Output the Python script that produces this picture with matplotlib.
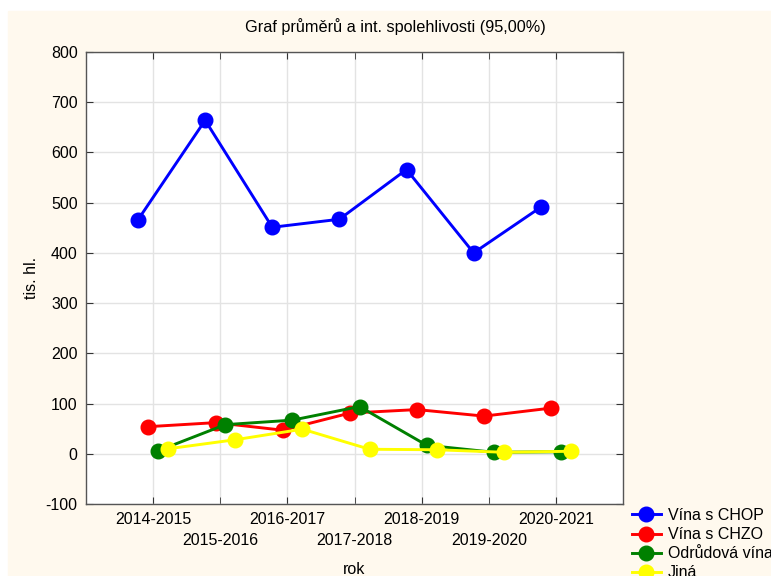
import matplotlib.pyplot as plt
import numpy as np
from matplotlib.patches import Rectangle

plt.rcParams["font.family"] = ["Liberation Sans", "DejaVu Sans"]
plt.rcParams["axes.unicode_minus"] = False

years = ["2014-2015", "2015-2016", "2016-2017", "2017-2018",
         "2018-2019", "2019-2020", "2020-2021"]
chop = [466, 664, 451, 467, 566, 400, 491]
chzo = [54, 62, 47, 81, 88, 75, 91]
odrudova = [6, 58, 67, 94, 17, 3, 4]
jina = [10, 28, 49, 9, 8, 3, 5]

series = [
    ("Vína s CHOP", chop, "#0000FF"),
    ("Vína s CHZO", chzo, "#FF0000"),
    ("Odrůdová vína", odrudova, "#008000"),
    ("Jiná", jina, "#FFFF00"),
]
offsets = [-0.225, -0.07, 0.075, 0.225]

fig = plt.figure(figsize=(7.71, 5.76), dpi=100, facecolor="white")
# cream panel behind everything, leaving a thin white strip top/left
fig.patches.append(Rectangle((8 / 771, 0), 1, 1 - 11 / 576,
                             transform=fig.transFigure, color="#FFF9EE", zorder=-10))
ax = fig.add_axes([86 / 771, 1 - 504 / 576, 537 / 771, 452 / 576])
ax.set_facecolor("white")

x = np.arange(1, len(years) + 1)
for (name, vals, col), off in zip(series, offsets):
    ax.plot(x + off, vals, color=col, lw=2.1, marker="o", markersize=10.5,
            label=name, clip_on=False)

ax.set_xlim(0, len(years) + 1)
ax.set_ylim(-100, 800)
ax.set_yticks(np.arange(-100, 801, 100))
# staggered category labels: first row on major ticks, second row on minor
ax.set_xticks(x[::2])
ax.set_xticklabels(years[::2])
ax.set_xticks(x[1::2], minor=True)
ax.set_xticklabels(years[1::2], minor=True)
ax.grid(True, which="both", color="#e3e3e3", lw=1)
ax.set_axisbelow(True)
ax.tick_params(which="both", direction="in", length=5, top=True, right=True,
               labelsize=11.5, pad=6, color="#333333")
ax.tick_params(axis="x", which="minor", pad=21)
for s in ax.spines.values():
    s.set_color("#555555")
    s.set_linewidth(1.0)

ax.set_xlabel("rok", fontsize=11.5)
ax.xaxis.set_label_coords(0.5, -0.128)
ax.set_ylabel("tis. hl.", fontsize=11.5, labelpad=5)
fig.text(395 / 771, 1 - 27 / 576,
         "Graf průměrů a int. spolehlivosti (95,00%)",
         ha="center", va="center", fontsize=11.7)

fig.legend(loc="upper left", bbox_to_anchor=(632 / 771, 1 - 508 / 576),
           frameon=False, fontsize=11.5, borderpad=0, borderaxespad=0,
           handlelength=1.8, handletextpad=0.45, labelspacing=0.26)

fig.savefig("out.png", dpi=100)
